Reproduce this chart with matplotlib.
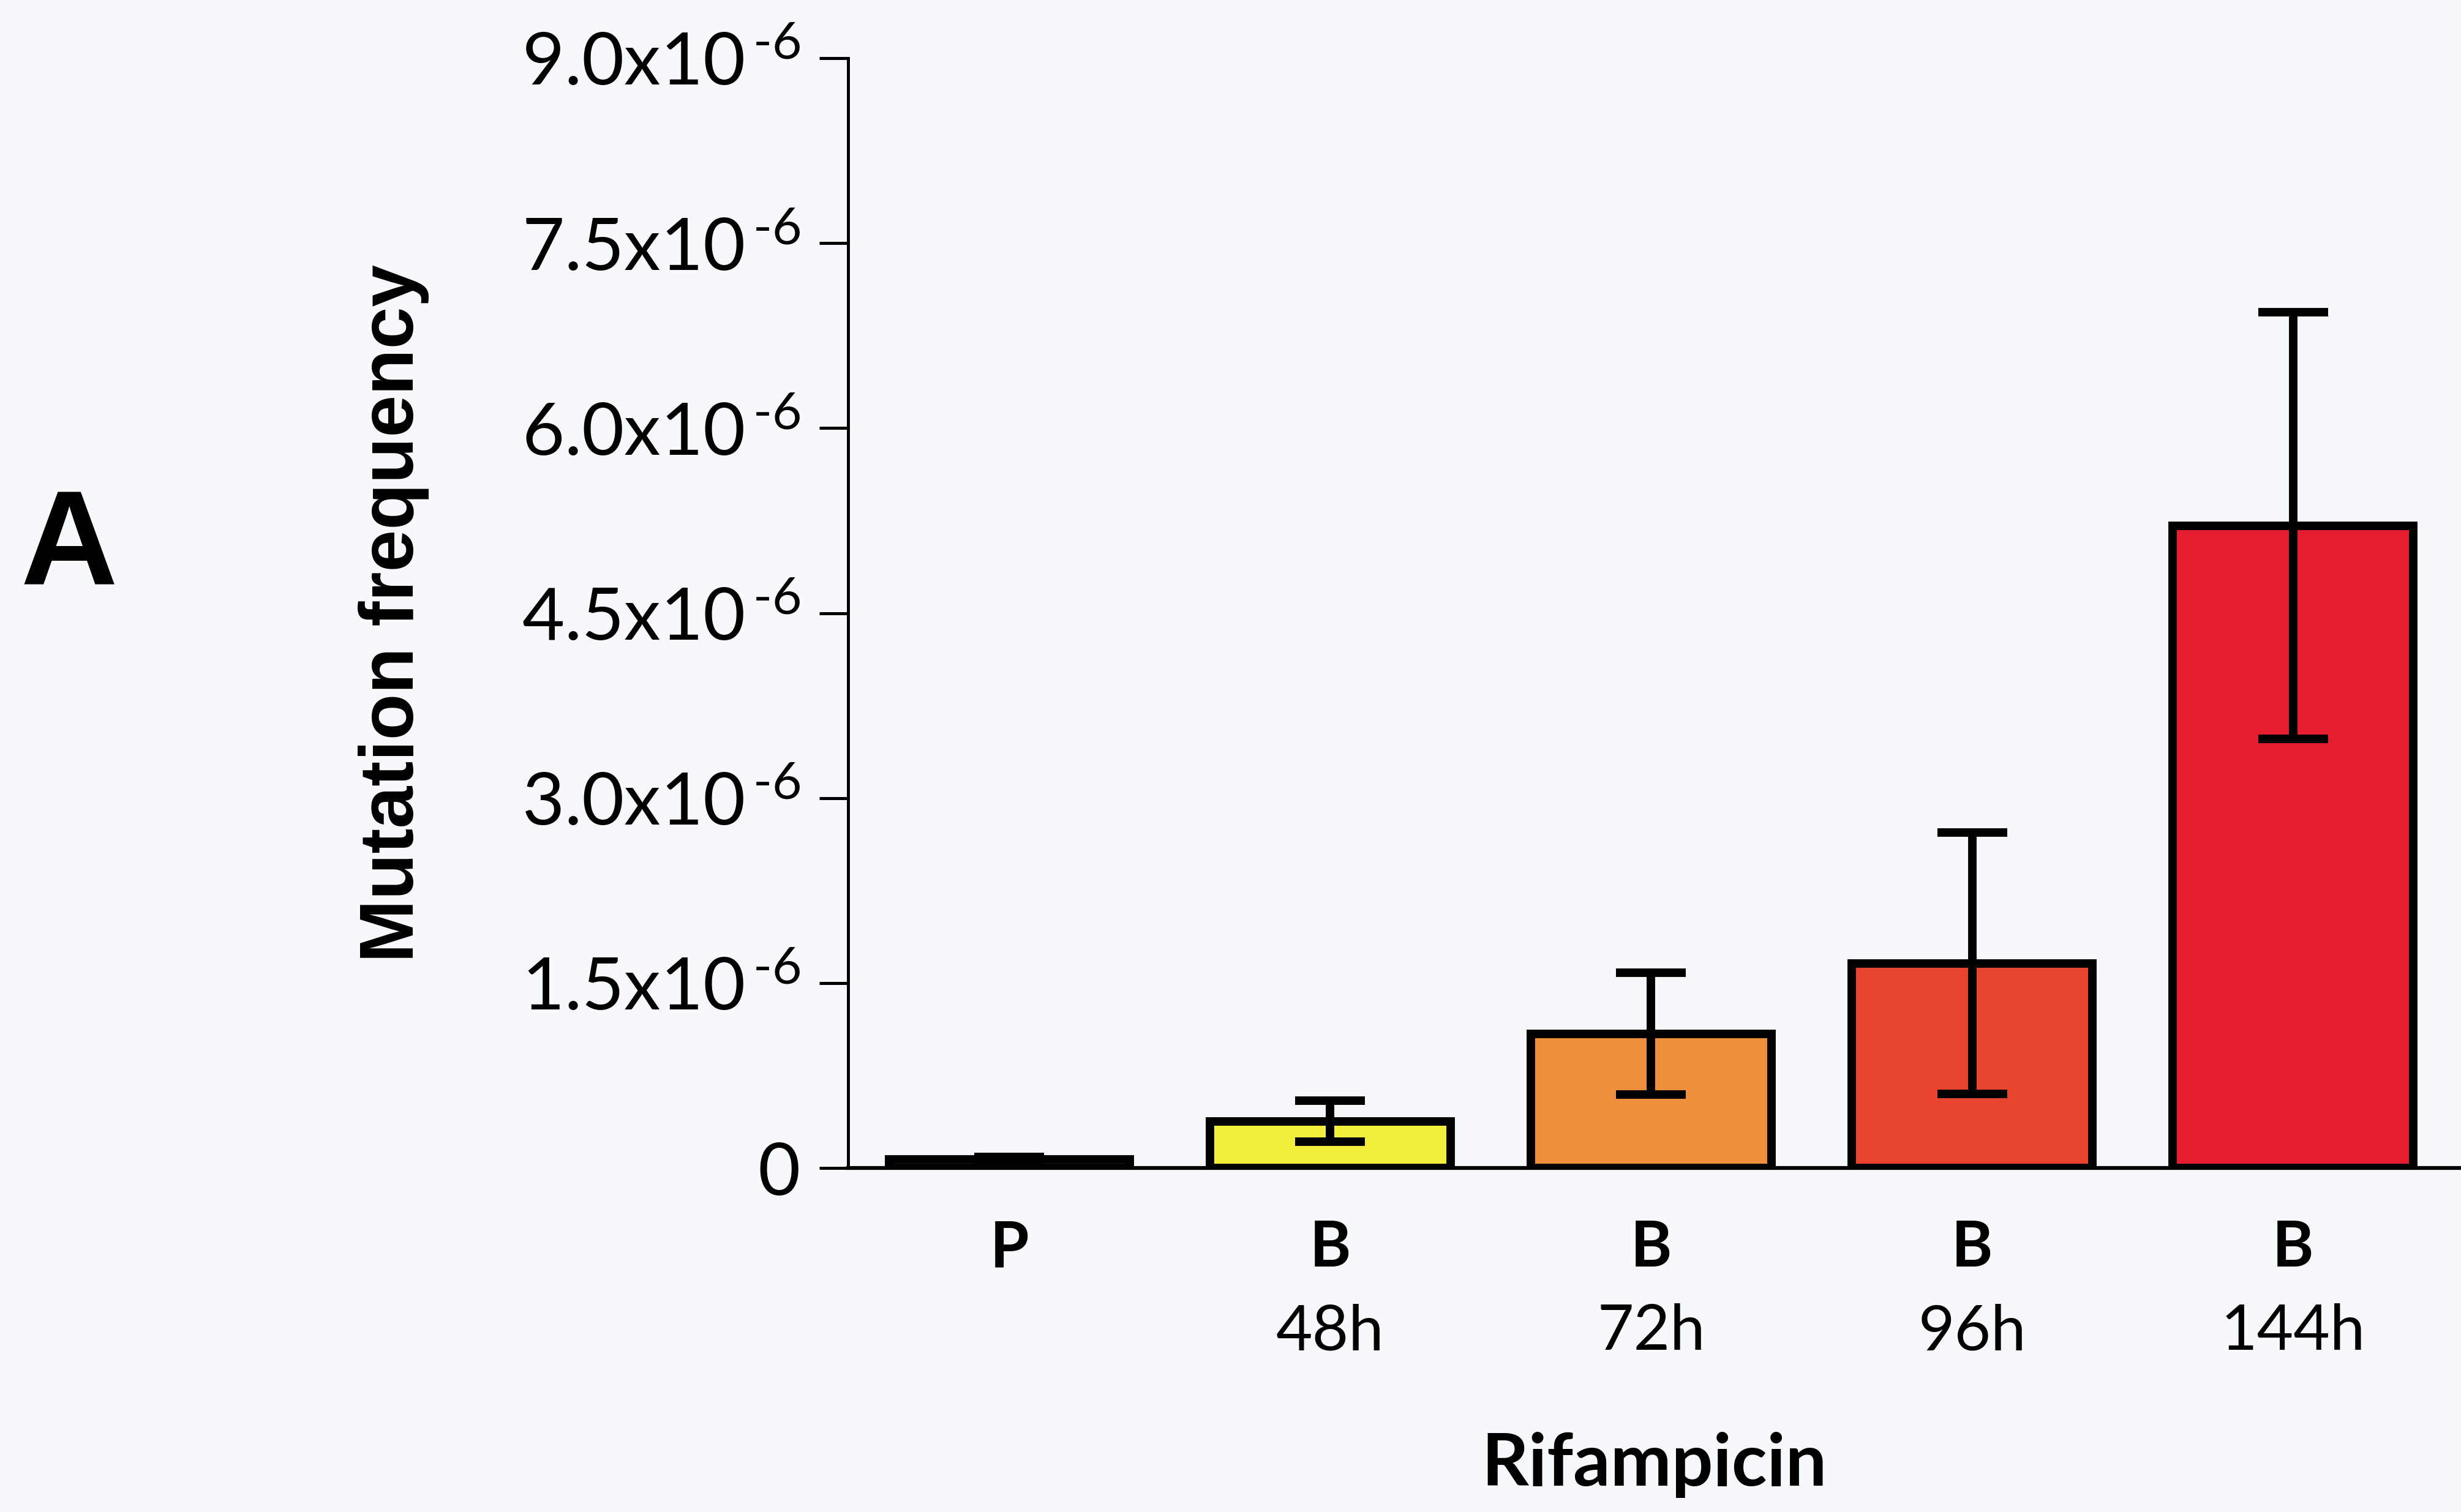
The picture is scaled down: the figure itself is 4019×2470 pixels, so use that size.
import matplotlib
matplotlib.use("Agg")
import matplotlib.pyplot as plt
import numpy as np

# ---- data ----
top_labels = ["P", "B", "B", "B", "B"]
bottom_labels = ["", "48h", "72h", "96h", "144h"]
means = [0.07e-6, 0.38e-6, 1.09e-6, 1.66e-6, 5.21e-6]
errors = [0.02e-6, 0.165e-6, 0.495e-6, 1.06e-6, 1.73e-6]
bar_colors = ["#F4F2B0", "#F2F03C", "#EE8F3C", "#E8442E", "#E41E30"]
ytick_values = [0, 1.5e-6, 3.0e-6, 4.5e-6, 6.0e-6, 7.5e-6, 9.0e-6]
ytick_labels = ["0",
                r"1.5x10$^{\,\text{-6}}$",
                r"3.0x10$^{\,\text{-6}}$",
                r"4.5x10$^{\,\text{-6}}$",
                r"6.0x10$^{\,\text{-6}}$",
                r"7.5x10$^{\,\text{-6}}$",
                r"9.0x10$^{\,\text{-6}}$"]
ylabel = "Mutation frequency"
xlabel = "Rifampicin"
panel = "A"

plt.rcParams['font.family'] = ['Lato', 'DejaVu Sans']
plt.rcParams['mathtext.fontset'] = 'custom'
plt.rcParams['mathtext.rm'] = 'Lato'
plt.rcParams['mathtext.it'] = 'Lato'

bg = "#F6F8FB"
fig = plt.figure(figsize=(40.19, 24.70), dpi=100, facecolor=bg)
ax = fig.add_axes([0.3446, 0.2275, 0.6554, 0.7340])
ax.set_facecolor(bg)

x = np.arange(len(means))
ax.bar(x, means, width=0.75, color=bar_colors, edgecolor="black",
       linewidth=10, zorder=2)
ax.errorbar(x, means, yerr=errors, fmt="none", ecolor="black",
            elinewidth=10, capsize=41, capthick=10, zorder=3)

ax.set_xlim(-0.502, 4.523)
ax.set_ylim(0, 9.0e-6)

for s in ["top", "right"]:
    ax.spines[s].set_visible(False)
ax.spines["left"].set_linewidth(3.6)
ax.spines["bottom"].set_linewidth(4.5)
ax.spines["bottom"].set_zorder(4)

ax.set_yticks(ytick_values)
ax.set_yticklabels(ytick_labels, fontsize=86)
ax.tick_params(axis="y", direction="out", length=34, width=3.6, pad=22)

ax.set_xticks(x)
ax.set_xticklabels([])
ax.tick_params(axis="x", length=0)

for i in range(len(means)):
    ax.annotate(top_labels[i], xy=(x[i], 0), xycoords=("data", "axes fraction"),
                xytext=(0, -116), textcoords="offset points",
                ha="center", va="baseline", fontsize=74, fontweight="bold")
    if bottom_labels[i]:
        ax.annotate(bottom_labels[i], xy=(x[i], 0), xycoords=("data", "axes fraction"),
                    xytext=(0, -214), textcoords="offset points",
                    ha="center", va="baseline", fontsize=74)

ax.set_ylabel(ylabel, fontsize=89, fontweight="bold",
              family=["Liberation Sans", "DejaVu Sans"], va="center")
ax.yaxis.set_label_coords(-0.2817, 0.5)

ax.set_xlabel(xlabel, fontsize=86, fontweight="bold", va="baseline")
ax.xaxis.set_label_coords(0.5, -0.2863)

fig.text(113 / 4019, 1 - 956 / 2470, panel, fontsize=158, fontweight="bold",
         family=["Liberation Sans", "DejaVu Sans"], ha="center", va="baseline")

fig.savefig("out.png", dpi=100, facecolor=bg)
